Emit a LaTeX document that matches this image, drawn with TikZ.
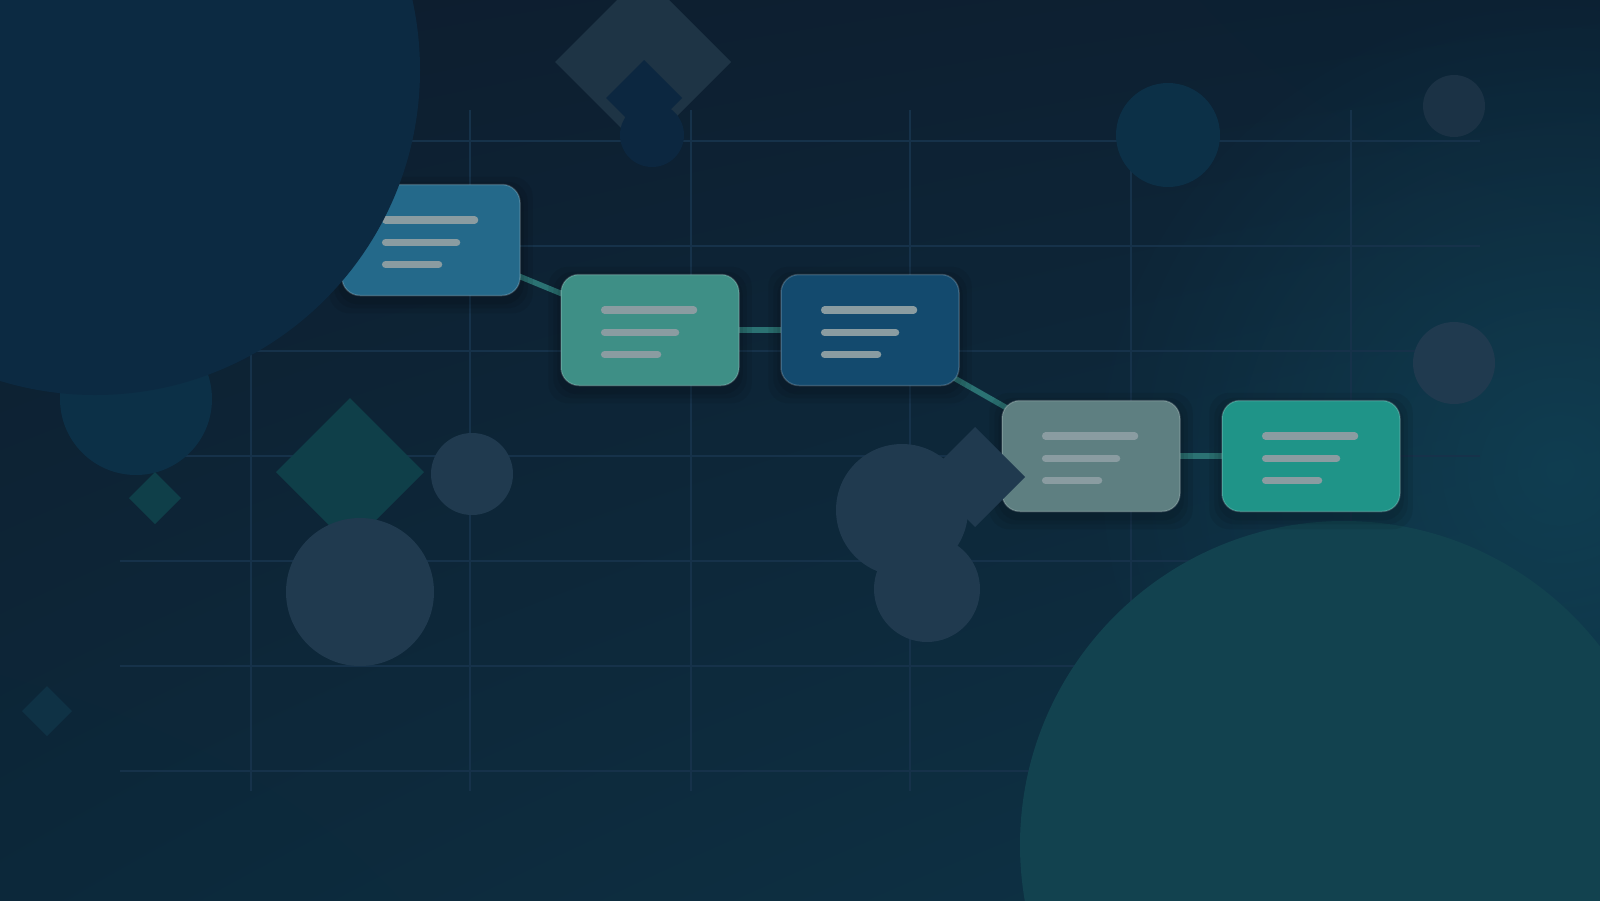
\documentclass[tikz,border=0pt]{standalone}
\usetikzlibrary{fadings,shadings}

\definecolor{bgtl}{HTML}{0E1D2E}
\definecolor{bgtr}{HTML}{0C2133}
\definecolor{bgbl}{HTML}{0C283A}
\definecolor{bgbr}{HTML}{0E3447}
\definecolor{glowc}{HTML}{124A5E}
\definecolor{gridc}{HTML}{16324A}
\definecolor{linkc}{HTML}{2B7273}
\definecolor{barc}{HTML}{8A9CA1}
\definecolor{cardA}{HTML}{24698A}
\definecolor{cardB}{HTML}{3E8F86}
\definecolor{cardC}{HTML}{134A6E}
\definecolor{cardD}{HTML}{5E7F81}
\definecolor{cardE}{HTML}{1F9488}
\definecolor{tealdk}{HTML}{0F3F49}
\definecolor{navyc}{HTML}{0C3047}
\definecolor{navyb}{HTML}{0C2A42}
\definecolor{navyd}{HTML}{0F3245}
\definecolor{navye}{HTML}{0C2740}
\definecolor{slate}{HTML}{203A4F}
\definecolor{slatedk}{HTML}{1B3245}
\definecolor{greyc}{HTML}{1E3445}
\definecolor{tealbig}{HTML}{12424F}

\pgfdeclarelayer{backdrop}
\pgfdeclarelayer{front}
\pgfsetlayers{backdrop,main,front}

\tikzfading[name=glowfade, inner color=transparent!40, outer color=transparent!100]

\tikzset{
	card/.style={rectangle, rounded corners=18pt, minimum width=178pt, minimum height=111pt,
		inner sep=0pt, draw=white, draw opacity=0.18, line width=1.5pt},
	cardshade/.style={fill=black, opacity=0.07, rounded corners=20pt},
	bar/.style={line width=7.3pt, line cap=round, draw=barc},
	link/.style={line width=5.5pt, draw=linkc},
	gridline/.style={line width=1.2pt, draw=gridc},
}

% a diamond around (x,y) with half diagonal h
\newcommand{\gem}[3]{
	(#1,#2-#3) --
	(#1+#3,#2) --
	(#1,#2+#3) --
	(#1-#3,#2) --
	cycle}
% the three text bars of a card
\newcommand{\cardbars}[1]{
	\draw[bar] ([shift={(-45.4pt,20pt)}]#1.center) -- ++(89,0);
	\draw[bar] ([shift={(-45.4pt,-2.5pt)}]#1.center) -- ++(71,0);
	\draw[bar] ([shift={(-45.4pt,-24.5pt)}]#1.center) -- ++(53,0);
}
% soft shadow under a card
\newcommand{\cardshadow}[1]{
	\foreach \g in {3,7,12}
		\fill[cardshade] ([shift={(-\g pt,-\g pt-5pt)}]#1.south west) rectangle ([shift={(\g pt,\g pt-5pt)}]#1.north east);
}

\begin{document}
\begin{tikzpicture}[x=1pt,y=-1pt]
	\useasboundingbox (0,0) rectangle (1600,900);

	\begin{pgfonlayer}{backdrop}
		% backdrop
		\shade[upper left=bgtl, upper right=bgtr, lower left=bgbl, lower right=bgbr] (0,0) rectangle (1600,900);
		\fill[glowc, path fading=glowfade] (1560,470) circle (480pt);

		% grid
		\foreach \y in {141,246,351,456,561,666,771}
			\draw[gridline] (120,\y) -- (1480,\y);
		\foreach \x in {251,470,691,910,1131,1351}
			\draw[gridline] (\x,110) -- (\x,791);

		% shapes on the left
		\fill[navyc] (136,399) circle (76pt);
		\fill[tealdk] \gem{155}{498}{26};
		\fill[tealdk] \gem{350}{472}{74};
		\fill[slate] (472,474) circle (41pt);
		\fill[slate] (360,592) circle (74pt);
		\fill[navyd] \gem{47}{711}{25};

		% shapes on top
		\fill[greyc] \gem{643}{62}{88};
		\fill[navye] \gem{644}{98}{38};
		\fill[navye] (652,135) circle (32pt);

		% shapes on the right
		\fill[navyc] (1168,135) circle (52pt);
		\fill[slatedk] (1454,106) circle (31pt);
		\fill[slate] (1454,363) circle (41pt);
		\fill[slate] (902,510) circle (66pt);
		\fill[slate] (927,589) circle (53pt);
		\fill[tealbig] (1344,845) circle (324pt);
	\end{pgfonlayer}

	% the cards
	\node[card, fill=cardA] (c1) at (431,240) {};
	\node[card, fill=cardB] (c2) at (650,330) {};
	\node[card, fill=cardC] (c3) at (870,330) {};
	\node[card, fill=cardD] (c4) at (1091,456) {};
	\node[card, fill=cardE] (c5) at (1311,456) {};
	\foreach \c in {c1,c2,c3,c4,c5}
		{\cardbars{\c}}

	% links and shadows below the cards
	\begin{pgfonlayer}{backdrop}
		\draw[link] (c1.center) -- (c2.center);
		\draw[link] (c2.center) -- (c3.center);
		\draw[link] (c3.center) -- (c4.center);
		\draw[link] (c4.center) -- (c5.center);
		\foreach \c in {c1,c2,c3,c4,c5}
			{\cardshadow{\c}}
	\end{pgfonlayer}

	% shapes over the cards
	\begin{pgfonlayer}{front}
		\fill[navyb] (95,70) circle (325pt);
		\fill[slate] \gem{975}{477}{50};
	\end{pgfonlayer}
\end{tikzpicture}
\end{document}
